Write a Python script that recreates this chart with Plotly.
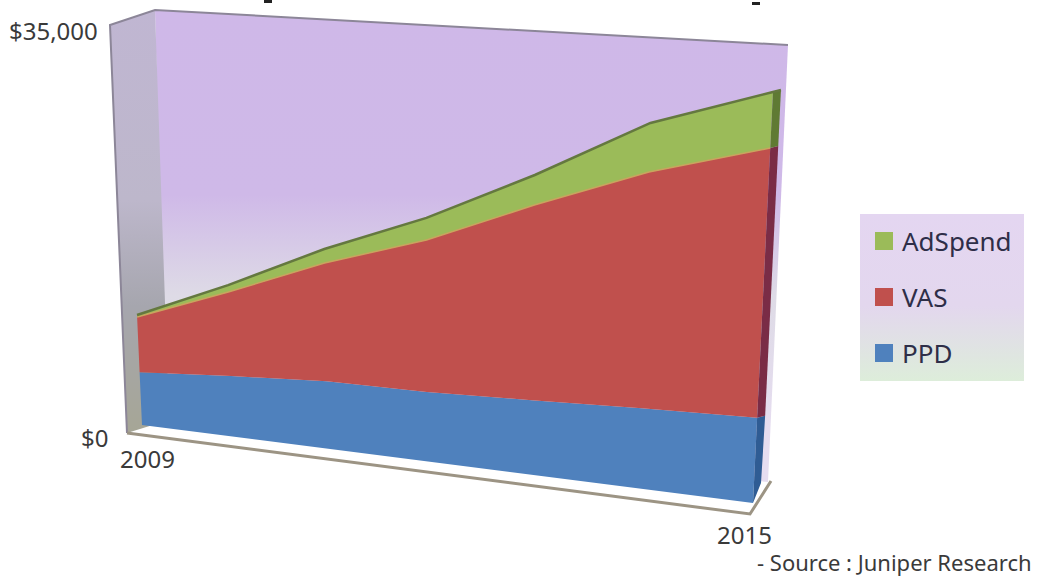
import numpy as np
import plotly.graph_objects as go

# Chart data: stacked values, one per year
years = [2009, 2010, 2011, 2012, 2013, 2014, 2015]
ppd = [4900, 5500, 6000, 6050, 6350, 6700, 6950]
vas = [5030, 7470, 10230, 12810, 15980, 18790, 20870]
adspend = [180, 600, 1190, 1810, 2380, 3740, 4125]
value_max = 35000
value_ticks = ["$0", "$35,000"]

# Perspective plane of the front of the stacked areas
BL, BR, TR, TL = (142, 425), (753, 503), (775, 50), (124, 28)


def plane_coeffs():
    (x0, y0), (x1, y1), (x2, y2), (x3, y3) = BL, BR, TR, TL
    dx1, dx2, sx = x1 - x2, x3 - x2, x0 - x1 + x2 - x3
    dy1, dy2, sy = y1 - y2, y3 - y2, y0 - y1 + y2 - y3
    det = dx1 * dy2 - dx2 * dy1
    g = (sx * dy2 - dx2 * sy) / det
    h = (dx1 * sy - sx * dy1) / det
    return (x1 - x0 + g * x1, x3 - x0 + h * x3, x0,
            y1 - y0 + g * y1, y3 - y0 + h * y3, y0, g, h)


A, B, C, D, E, F, G, H = plane_coeffs()


def project(year, value):
    t = (np.asarray(year, float) - years[0]) / (years[-1] - years[0])
    v = np.asarray(value, float) / value_max
    w = G * t + H * v + 1
    return (A * t + B * v + C) / w, (D * t + E * v + F) / w


fig = go.Figure()


def polygon(xs, ys, color=None, gradient=None):
    kw = dict(fillgradient=gradient) if gradient else dict(fillcolor=color)
    fig.add_trace(go.Scatter(x=xs, y=ys, mode="lines", fill="toself",
                             line=dict(width=0), hoverinfo="skip", showlegend=False, **kw))


def stroke(xs, ys, color, width):
    fig.add_trace(go.Scatter(x=xs, y=ys, mode="lines", line=dict(color=color, width=width),
                             hoverinfo="skip", showlegend=False))


def vgrad(stops, y_top, y_bot):
    return dict(type="vertical", start=y_top, stop=y_bot, colorscale=stops)


# Back wall
polygon([155, 788, 768, 165, 155], [10, 45, 482, 420, 10],
        gradient=vgrad([[0, "#CFB8E8"], [0.44, "#CFB9E8"], [0.68, "#DEDBE6"], [1, "#E6DDF0"]], 10, 430))
# Side wall
polygon([110, 155, 169, 127, 110], [25, 10, 420, 433, 25],
        gradient=vgrad([[0, "#C0B6D2"], [0.45, "#BDB7CB"], [0.7, "#A6A6AE"], [1, "#A6A696"]], 10, 433))
stroke([127, 110, 155, 788], [433, 25, 10, 45], "#8C8698", 2)

# Floor edge
stroke([127, 750, 771], [433, 514, 481], "#9C9484", 3)

# Stacked layers, lowest first
ppd_top = np.array(ppd, float)
vas_top = ppd_top + np.array(vas, float)
ad_top = vas_top + np.array(adspend, float)
zero = np.zeros(len(years))
layers = [(zero, ppd_top, "#4F81BD", "#2F5C94"),
          (ppd_top, vas_top, "#C0504D", "#7A2C46"),
          (vas_top, ad_top, "#9BBB59", "#5F7A33")]

side_depth = (8, -2)
for i, (low, high, face, side) in enumerate(layers):
    hx, hy = project(years, high)
    lx, ly = project(years, low)
    polygon(np.r_[lx, hx[::-1], lx[0]], np.r_[ly, hy[::-1], ly[0]], color=face)
    # Right-hand end cap of the layer
    drop = -20 if i == 0 else side_depth[1]
    polygon([lx[-1], lx[-1] + side_depth[0], hx[-1] + side_depth[0], hx[-1], lx[-1]],
            [ly[-1], ly[-1] + drop, hy[-1] + side_depth[1], hy[-1], ly[-1]], color=side)

bx, by = project(years, vas_top)
stroke(bx, by, "#C9A45E", 1.5)
tx, ty = project(years, ad_top)
stroke(np.r_[tx, tx[-1] + side_depth[0]], np.r_[ty, ty[-1] + side_depth[1]], "#64783F", 2.5)

# Legend panel
legend_names = ["AdSpend", "VAS", "PPD"]
legend_colors = ["#9BBB59", "#C0504D", "#4F81BD"]
legend_rows = [241, 297, 353]
polygon([860, 1024, 1024, 860, 860], [214, 214, 381, 381, 214],
        gradient=vgrad([[0, "#E4D6F1"], [0.55, "#E3D7EE"], [1, "#DDEDDA"]], 214, 381))
fig.add_trace(go.Scatter(x=[884] * 3, y=legend_rows, mode="markers",
                         marker=dict(symbol="square", size=18, color=legend_colors, line=dict(width=0)),
                         hoverinfo="skip", showlegend=False))

FONT = "Noto Sans"
notes = [(100, 30, value_ticks[1], "right", 24, "#3A3A3A"),
         (110, 437, value_ticks[0], "right", 24, "#3A3A3A"),
         (147, 458, str(years[0]), "center", 24, "#3A3A3A"),
         (744, 534, str(years[-1]), "center", 24, "#3A3A3A"),
         (1034, 562, "- Source : Juniper Research", "right", 22, "#3A3A3A")]
notes += [(900, y, n, "left", 26, "#2E2E48") for n, y in zip(legend_names, legend_rows)]
for x, y, text, anchor, size, color in notes:
    fig.add_annotation(x=x, y=y, text=text, showarrow=False, xanchor=anchor, yanchor="middle",
                       font=dict(family=FONT, size=size, color=color), xref="x", yref="y")

# Tips of the title that runs off the top edge
for x0, x1, y1 in [(264, 272, 3), (752, 760, 5)]:
    fig.add_shape(type="rect", x0=x0, x1=x1, y0=y1 - 3, y1=y1, fillcolor="#222222", line=dict(width=0))

fig.update_layout(width=1037, height=576, margin=dict(l=0, r=0, t=0, b=0),
                  paper_bgcolor="white", plot_bgcolor="white", showlegend=False,
                  xaxis=dict(range=[0, 1037], visible=False),
                  yaxis=dict(range=[576, 0], visible=False))
fig.write_html("out.html", config={"displayModeBar": False})
